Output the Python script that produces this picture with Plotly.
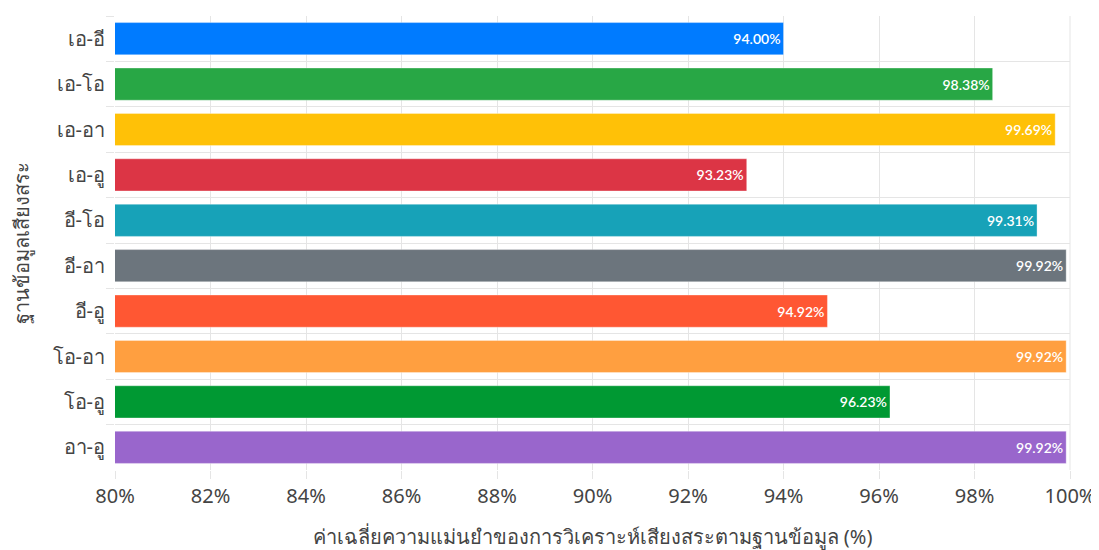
import plotly.graph_objects as go

categories = ["เอ-อี", "เอ-โอ", "เอ-อา", "เอ-อู", "อี-โอ", "อี-อา", "อี-อู", "โอ-อา", "โอ-อู", "อา-อู"]
values = [94.00, 98.38, 99.69, 93.23, 99.31, 99.92, 94.92, 99.92, 96.23, 99.92]
colors = ["#007bff", "#28a745", "#ffc107", "#dc3545", "#17a2b8", "#6c757d",
          "#ff5733", "#ff9f40", "#009933", "#9966cc"]
x_tick_vals = [80, 82, 84, 86, 88, 90, 92, 94, 96, 98, 100]
x_tick_text = [f"{v}%" for v in x_tick_vals]

fig = go.Figure(go.Bar(
    x=values, y=categories, orientation="h",
    base=0,
    marker=dict(color=colors, line=dict(color="rgba(255,255,255,0.35)", width=1)),
    text=[f"{v:.2f}%" for v in values],
    textposition="inside", insidetextanchor="end",
    textfont=dict(family="Lato", size=14, color="white", weight=600),
    cliponaxis=True,
    hoverinfo="skip",
))

# page body has an 8px margin: size the figure so the plot lands where the reference's does
fig.update_layout(
    width=1091, height=542,
    margin=dict(l=107, r=29, t=8, b=80),
    paper_bgcolor="white", plot_bgcolor="white",
    bargap=0.29,
    showlegend=False,
    font=dict(family="Noto Sans, Lato, sans-serif", color="#444"),
    uniformtext=dict(minsize=10, mode="show"),
)
fig.update_xaxes(
    range=[80, 100], tickvals=x_tick_vals, ticktext=x_tick_text,
    showgrid=True, gridcolor="#e5e5e5", gridwidth=1,
    ticks="outside", ticklen=8, tickcolor="#e5e5e5",
    tickfont=dict(size=20, color="#444"),
    showline=False, zeroline=False, automargin=False,
    title=dict(text="ค่าเฉลี่ยความแม่นยำของการวิเคราะห์เสียงสระตามฐานข้อมูล (%)",
               font=dict(size=20, color="#444"), standoff=24),
)
fig.update_yaxes(
    autorange="reversed", type="category",
    tickson="boundaries", showgrid=True, gridcolor="#e5e5e5",
    ticks="outside", ticklen=8, tickcolor="#e5e5e5",
    tickfont=dict(size=20, color="#444"), ticklabelstandoff=9,
    title=dict(text="ฐานข้อมูลเสียงสระ", font=dict(size=20, color="#444"), standoff=19),
    showline=False, zeroline=False, automargin=False,
)
fig.add_shape(type="line", xref="paper", yref="paper", x0=1, x1=1, y0=0, y1=1,
              line=dict(color="#e5e5e5", width=1), layer="below")

fig.write_html("out.html")
